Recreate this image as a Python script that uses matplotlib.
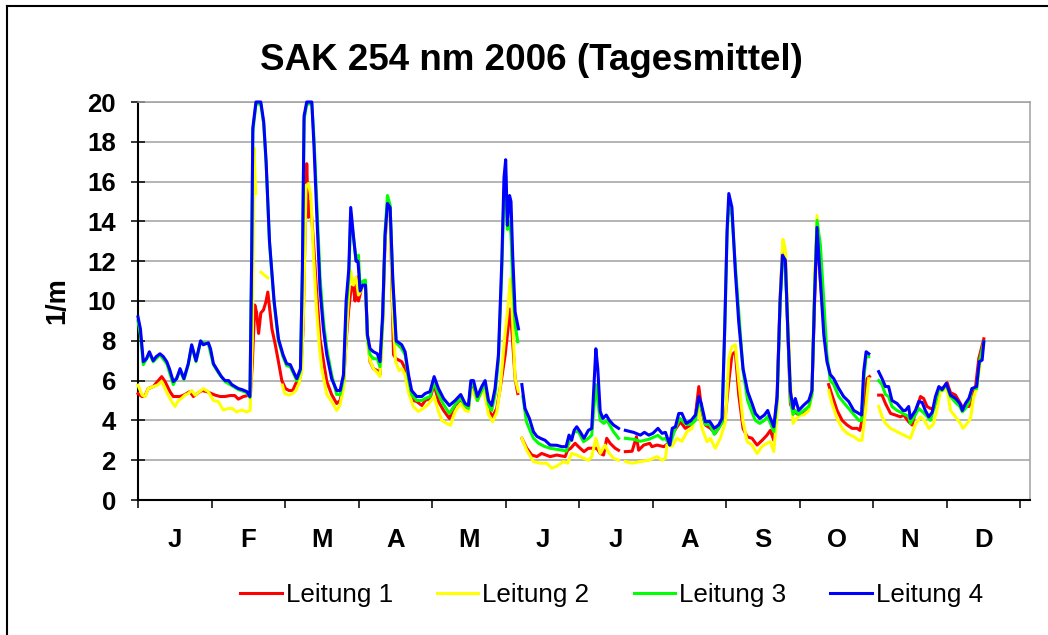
import numpy as np
import matplotlib.pyplot as plt
from matplotlib.lines import Line2D

plt.rcParams['font.family'] = ['Liberation Sans', 'DejaVu Sans']

# month labels under the x axis
months = ['J', 'F', 'M', 'A', 'M', 'J', 'J', 'A', 'S', 'O', 'N', 'D']
y_ticks = list(range(0, 21, 2))

# daily means: (day of year, 1/m), None = no data
leitung1 = [
    (0, 5.35), (1.7, 5.2), (3, 5.25), (4.2, 5.6), (6.3, 5.7), (8.4, 6.0), (9.8, 6.2), (11.2, 5.95),
    (13.2, 5.45), (14.6, 5.2), (17.4, 5.2), (19.4, 5.3), (21.5, 5.45), (22.9, 5.2), (24.5, 5.35),
    (26.4, 5.5), (28.4, 5.45), (31.9, 5.27), (34, 5.2), (36, 5.2), (38.1, 5.25), (40, 5.25),
    (41.5, 5.07), (43.6, 5.2), (45.5, 5.25), (46.5, 5.3), (47.3, 6.9), (48.3, 9.8), (49, 9.45),
    (49.9, 8.37), (50.8, 9.4), (51.9, 9.55), (52.9, 9.95), (53.7, 10.45), (54.5, 9.6), (55.4, 8.6),
    (56.8, 7.8), (58.1, 6.95), (59.5, 6.0), (61, 5.6), (62.5, 5.5), (64, 5.5), (65.3, 5.86),
    (66.6, 6.0), (67.3, 6.28), (68.3, 8.6), (69.2, 14.0), (69.8, 16.9), (70.5, 14.2), (71.2, 15.0),
    (72, 14.0), (72.8, 12.5), (73.9, 10.5), (75.3, 8.1), (76.7, 7.0), (78.1, 5.95), (80.1, 5.3),
    (82.2, 4.85), (83.6, 5.0), (85, 5.8), (86.1, 8.0), (87.2, 9.6), (88.2, 10.7), (89.1, 10.7),
    (89.8, 10.0), (90.5, 11.2), (91.2, 10.0), (92.6, 10.7), (94.1, 10.8), (94.9, 8.3), (96, 6.95),
    (97.4, 6.6), (99, 6.5), (100.1, 6.3), (101.2, 9.0), (102.2, 13.0), (103.2, 14.8), (104.3, 14.6),
    (104.8, 12.0), (105.7, 7.3), (106.8, 7.1), (109.1, 6.95), (110.5, 6.6), (111.9, 5.6), (113.9, 5.0),
    (115.3, 4.95), (117.4, 4.75), (118.8, 5.0), (120.8, 5.1), (122.5, 5.8), (124.3, 4.95), (126.4, 4.5),
    (128.8, 4.1), (131.2, 4.75), (133.5, 5.0), (135.3, 4.7), (136.7, 4.6), (137.7, 5.7), (139, 5.4),
    (140.4, 5.0), (142.9, 5.8), (145, 4.5), (146.7, 4.2), (148.4, 4.6), (149.8, 5.6), (151.9, 7.3),
    (152.8, 8.3), (153.9, 9.6), (154.8, 8.3), (156, 6.1), (157.1, 5.35), (158, None), (158.8, 3.1),
    (160.8, 2.6), (162.9, 2.26), (165, 2.18), (167, 2.34), (170.5, 2.18), (173.2, 2.26), (176.7, 2.18),
    (177.7, 2.5), (179, 2.6), (180.8, 2.85), (182.9, 2.6), (184.5, 2.43), (186.3, 2.6), (188.4, 2.6),
    (189.8, 2.6), (191.2, 2.34), (192.6, 2.26), (193.9, 3.1), (195.3, 2.85), (197.4, 2.6), (198.8, 2.5),
    (200.2, None), (201.6, 2.43), (204.4, 2.45), (206.2, 3.18), (207.1, 2.5), (209.2, 2.76),
    (211.7, 2.85), (212.6, 2.68), (214.7, 2.76), (217.5, 2.68), (219.5, 2.85), (221.6, 3.43),
    (224.4, 3.93), (226.4, 3.6), (228.5, 3.77), (230.6, 4.27), (232, 5.7), (233.3, 4.43), (234.7, 3.77),
    (236.8, 3.6), (238.8, 3.35), (240.9, 3.77), (243, 4.27), (244.4, 5.95), (245.7, 7.3), (247.1, 7.45),
    (248.5, 5.3), (250.3, 3.6), (252, 3.18), (254, 3.1), (256.1, 2.76), (258.2, 3.0), (260.2, 3.26),
    (261.6, 3.5), (263, 3.0), (264.4, 5.3), (265.6, 10.0), (266.6, 12.5), (267.8, 12.2), (268.8, 8.5),
    (269.9, 4.8), (271.9, 4.4), (273.3, 4.27), (275.4, 4.43), (277.5, 4.6), (278.8, 5.5), (279.9, 10.0),
    (280.9, 13.7), (282.3, 11.0), (283.3, 9.5), (284.5, None), (285.7, 5.8), (287.1, 5.27), (289.2, 4.5),
    (291.3, 4.0), (293.3, 3.77), (295.4, 3.6), (297.5, 3.6), (298.6, 3.5), (300, 4.27), (301.6, 6.1),
    (302.6, 6.2), (304.3, None), (306.4, 5.27), (307.8, 5.27), (309.2, 4.85), (311.3, 4.35),
    (313.3, 4.27), (315.4, 4.18), (316.8, 4.27), (318.8, 3.93), (320.2, 3.77), (321.6, 4.4),
    (323.7, 5.2), (325, 5.1), (326.4, 4.7), (327.8, 4.6), (329.2, 4.6), (330.6, 5.2), (331.9, 5.6),
    (333.3, 5.65), (334.7, 5.9), (336.1, 5.4), (338.2, 5.27), (340.9, 4.7), (343.7, 4.7), (345, 5.2),
    (346.4, 5.6), (347.8, 7.1), (349.9, 8.1),
]

leitung2 = [
    (0, 5.77), (1.7, 5.27), (3, 5.2), (4.2, 5.6), (6.3, 5.7), (8, 5.77), (9.8, 5.95), (11.2, 5.6),
    (12.5, 5.27), (13.9, 4.95), (15.3, 4.7), (16.7, 5.0), (18, 5.1), (19.4, 5.27), (20.8, 5.35),
    (22.2, 5.5), (23.6, 5.27), (25, 5.4), (27, 5.6), (29, 5.45), (31.2, 5.0), (33.2, 4.95),
    (35.3, 4.52), (37.4, 4.6), (39, 4.6), (40.8, 4.43), (42.9, 4.52), (45, 4.43), (46.4, 4.5),
    (47.3, 8.0), (48, 17.7), (48.7, 15.4), (49.7, None), (50.8, 11.45), (52.3, 11.3), (53.7, 11.16),
    (56, None), (59.7, 5.77), (60.7, 5.35), (62.5, 5.27), (64, 5.35), (65.3, 5.5), (66.6, 5.86),
    (67.7, 6.5), (68.6, 10.0), (69.5, 15.8), (70.5, 15.9), (71.5, 15.3), (72.5, 12.5), (73.9, 9.5),
    (75.1, 7.6), (76, 6.6), (78.1, 5.3), (80.1, 4.95), (82.2, 4.5), (83.6, 4.8), (85, 5.6),
    (87.1, 10.3), (88, 11.5), (89.1, 10.8), (90.2, 11.2), (91.2, 10.3), (92.6, 10.6), (94.1, 10.7),
    (94.9, 8.0), (96, 7.0), (97.4, 6.6), (99, 6.4), (100.1, 6.2), (101.2, 8.5), (102.2, 13.0),
    (103.2, 14.9), (104.3, 14.3), (105.4, 9.5), (106.5, 7.0), (108, 6.5), (109.1, 6.6), (110.5, 6.3),
    (111.9, 5.4), (113.9, 4.7), (115.9, 4.45), (118, 4.6), (120, 4.8), (122.5, 5.2), (124.3, 4.45),
    (125.7, 4.0), (127.7, 3.85), (129.3, 3.75), (131.2, 4.45), (133.5, 4.85), (135.3, 4.5),
    (136.7, 4.45), (137.7, 5.6), (139, 5.3), (140.4, 5.0), (142.9, 5.6), (145, 4.3), (146.7, 3.93),
    (148.4, 4.4), (149.8, 5.6), (151.8, 8.3), (152.8, 9.4), (154, 11.1), (154.8, 9.5), (156, 6.1),
    (157.4, 5.45), (158.1, None), (158.8, 3.1), (160.8, 2.5), (163.6, 1.93), (166.3, 1.85),
    (169, 1.85), (171.2, 1.6), (173.2, 1.7), (176, 1.93), (177.7, 1.85), (179.4, 2.34), (181.5, 2.26),
    (184.3, 2.1), (186.3, 2.0), (187.7, 2.18), (189.4, 3.1), (191.2, 2.34), (193.2, 2.76),
    (194.6, 2.4), (196.7, 2.1), (198.8, 2.0), (200.2, None), (201.6, 1.93), (204.4, 1.85),
    (207.8, 1.93), (211.3, 2.0), (214.7, 2.18), (216.8, 2.0), (218.2, 2.1), (218.8, 2.76),
    (220.9, 2.7), (223, 3.1), (225, 2.95), (227.1, 3.43), (229.2, 3.6), (231.5, 4.77), (233.3, 3.6),
    (235.4, 2.93), (236.8, 3.1), (238.8, 2.6), (240.9, 3.1), (243, 3.93), (244.4, 7.1), (245.7, 7.7),
    (247.1, 7.8), (248.5, 6.0), (250.3, 3.93), (252, 2.93), (254, 2.76), (256.1, 2.34), (258.2, 2.7),
    (260.2, 2.85), (261.6, 2.93), (263, 2.43), (264.4, 4.4), (265.6, 10.2), (266.8, 13.1),
    (267.8, 12.6), (268.8, 9.4), (269.9, 6.0), (271, 3.85), (272.4, 4.1), (274, 4.27), (275.4, 4.27),
    (277.5, 4.5), (278.8, 5.3), (279.9, 11.3), (280.9, 14.3), (282, 12.0), (283, 9.8), (284, 8.3),
    (284.8, None), (285.7, 5.5), (287.1, 4.85), (289.2, 4.1), (291.3, 3.6), (293.3, 3.35),
    (296.1, 3.18), (298.2, 3.0), (299.5, 3.0), (300.9, 4.43), (302.3, 6.1), (304.3, None),
    (306.4, 4.7), (307.8, 4.18), (309.2, 3.85), (311.3, 3.6), (314, 3.43), (316.8, 3.26),
    (319.5, 3.1), (321.6, 3.8), (323.7, 4.18), (325.3, 4.0), (327.1, 3.6), (329, 3.8), (330.6, 4.6),
    (331.9, 5.44), (333.3, 5.5), (334.7, 5.6), (336.1, 4.5), (338.2, 4.18), (340.2, 3.85),
    (341.3, 3.6), (343, 3.85), (344.4, 4.1), (345.7, 5.2), (347, 5.6), (348.4, 6.9), (349.9, 7.8),
]

leitung3 = [
    (0, 9.0), (1, 8.3), (2.2, 6.8), (4.7, 7.35), (6.3, 6.95), (9.1, 7.3), (11.9, 6.85), (14.6, 5.8),
    (17.4, 6.5), (19, 6.05), (20.8, 6.8), (22.2, 7.75), (24, 6.95), (25.9, 7.95), (29.1, 7.85),
    (31.2, 6.8), (33.2, 6.4), (36, 5.95), (38.8, 5.75), (41.5, 5.55), (45, 5.4), (46.3, 5.15),
    (47, 11.8), (47.5, 18.5), (48.8, 19.9), (50.8, 19.9), (52, 18.9), (53, 16.9), (54.4, 12.9),
    (56.3, 9.9), (58.1, 8.0), (60, 7.2), (61.5, 6.75), (63, 6.7), (65.7, 6.0), (67.2, 6.5),
    (68, 11.4), (68.7, 19.1), (69.8, 19.9), (71.9, 19.9), (72.8, 18.2), (73.9, 15.2), (75.3, 11.2),
    (76.7, 9.0), (78.1, 7.6), (80.1, 6.3), (82.2, 5.3), (83.6, 5.3), (85, 6.1), (86.1, 9.5),
    (87.2, 11.2), (88, 14.4), (89.1, 13.2), (90.2, 12.1), (91.2, 12.3), (91.9, 10.6), (93, 11.0),
    (94.1, 11.05), (94.9, 8.2), (96, 7.3), (97.4, 7.1), (99, 7.1), (100.1, 6.7), (101.2, 9.0),
    (102.2, 13.5), (103.2, 15.3), (104.3, 14.8), (105.4, 11.0), (106.8, 7.9), (109.1, 7.6),
    (110.5, 7.3), (111.9, 6.1), (113.2, 5.3), (115.3, 5.0), (117.4, 5.0), (118.8, 5.1), (120.8, 5.2),
    (122.5, 5.9), (124.3, 5.3), (126.4, 4.8), (128.8, 4.35), (131.2, 4.8), (133.5, 5.1), (135.3, 4.75),
    (136.7, 4.6), (137.7, 5.8), (138.8, 5.8), (140.4, 5.0), (142.2, 5.5), (143.6, 5.8), (145, 4.8),
    (146.3, 4.5), (147.7, 5.3), (149.1, 7.0), (150.5, 11.5), (151.4, 15.5), (152.1, 16.3),
    (152.8, 13.6), (153.7, 14.0), (154.3, 13.3), (155, 11.0), (156, 8.8), (157.1, 7.95), (158.1, None),
    (159.2, 5.2), (160.7, 3.93), (162.5, 3.4), (163.6, 3.1), (165.7, 2.85), (168, 2.7), (170.5, 2.6),
    (173, 2.55), (175.8, 2.5), (177.1, 2.45), (178.3, 2.9), (180.4, 3.43), (182.2, 3.43),
    (184.3, 2.93), (186.3, 3.1), (187.7, 3.26), (188.7, 4.8), (189.4, 5.8), (190.2, 5.0), (191.2, 4.0),
    (192.7, 3.85), (194, 4.0), (196.7, 3.43), (198.8, 3.1), (200.2, None), (201.6, 3.1), (205, 3.05),
    (207.8, 2.95), (211.3, 3.05), (215.1, 3.25), (217, 3.05), (218.2, 3.1), (220, 2.76), (222.3, 3.6),
    (224.2, 4.1), (226.8, 3.8), (228.8, 3.8), (230.6, 4.0), (232, 5.1), (233.3, 4.5), (234.7, 3.8),
    (236.5, 3.8), (238.4, 3.3), (240.2, 3.6), (241.6, 3.9), (242.7, 8.4), (243.7, 13.4), (244.4, 14.8),
    (245.7, 14.3), (247.1, 11.8), (248.5, 9.5), (250.3, 6.5), (252.2, 5.0), (254, 4.4), (255.4, 4.0),
    (257.2, 3.85), (259.1, 4.0), (260.5, 4.2), (261.3, 3.95), (263, 3.43), (264.4, 5.0), (265.6, 9.8),
    (266.6, 12.0), (267.8, 11.8), (268.8, 8.5), (269.9, 5.0), (271, 4.3), (271.9, 4.5), (273.3, 4.3),
    (275.4, 4.5), (277.5, 4.7), (278.8, 5.3), (279.9, 10.5), (280.9, 14.05), (282.3, 12.8),
    (283.7, 10.0), (285, 7.3), (286.4, 6.0), (287.8, 5.8), (289.9, 5.2), (291.9, 4.9), (294, 4.6),
    (296.1, 4.3), (298.2, 4.0), (299.3, 4.0), (300.2, 6.0), (301.2, 7.2), (302.3, 7.2), (304.3, None),
    (306.4, 6.0), (307.8, 5.8), (309.2, 5.3), (310.5, 5.2), (311.9, 4.7), (314, 4.5), (316.5, 4.35),
    (318.8, 4.2), (319.5, 3.85), (321.6, 4.3), (323, 4.6), (325.7, 4.3), (327.8, 4.0), (329.9, 4.9),
    (331.3, 5.6), (332.6, 5.5), (334.4, 5.8), (336.1, 5.2), (338.2, 4.9), (340, 4.7), (341, 4.43),
    (342.3, 4.6), (343.7, 4.9), (345, 5.6), (346.9, 5.6), (348, 6.9), (349.9, 7.95),
]

leitung4 = [
    (0, 9.2), (1, 8.6), (2.2, 6.95), (3.5, 7.1), (4.7, 7.45), (6.3, 7.0), (7.5, 7.2), (9.1, 7.35),
    (10.5, 7.2), (11.9, 6.95), (13, 6.6), (14.6, 5.95), (16, 6.1), (17.4, 6.6), (19, 6.1), (20.8, 6.85),
    (22.2, 7.8), (24, 7.0), (25.9, 8.0), (27, 7.8), (29.1, 7.9), (30, 7.6), (31.2, 6.85), (33.2, 6.45),
    (34.5, 6.2), (36, 6.0), (37.5, 6.0), (38.8, 5.8), (41.5, 5.6), (43, 5.55), (45, 5.45), (46.3, 5.2),
    (47, 12.0), (47.5, 18.7), (48.8, 20.0), (50.8, 20.0), (52, 19.0), (53, 17.0), (54.4, 13.0),
    (56.3, 10.0), (58.1, 8.1), (60, 7.3), (61.5, 6.85), (63, 6.8), (64.5, 6.4), (65.7, 6.1),
    (67.2, 6.6), (68, 11.6), (68.7, 19.3), (69.8, 20.0), (71.9, 20.0), (72.8, 17.8), (73.9, 14.5),
    (75.3, 10.6), (76.7, 8.6), (78.1, 7.3), (80.1, 6.1), (82.2, 5.5), (83.6, 5.5), (85, 6.3),
    (86.1, 10.0), (87.2, 11.6), (88, 14.7), (89.1, 13.3), (90.2, 12.0), (91, 12.0), (91.9, 10.5),
    (93, 10.8), (94.1, 10.8), (94.9, 8.3), (96, 7.6), (97.4, 7.45), (99, 7.35), (100.1, 6.95),
    (101.2, 9.3), (102.2, 13.3), (103.2, 14.9), (104.3, 14.7), (105.4, 11.1), (106.8, 8.0),
    (109.1, 7.8), (110.5, 7.45), (111.9, 6.3), (113.2, 5.5), (115.3, 5.2), (117.4, 5.2), (118.8, 5.35),
    (120.8, 5.45), (122.5, 6.2), (124.3, 5.6), (126.4, 5.1), (128.8, 4.75), (131.2, 5.0), (133.5, 5.3),
    (135.3, 4.85), (136.7, 4.75), (137.7, 6.0), (138.8, 6.0), (140.4, 5.2), (142.2, 5.7), (143.6, 6.0),
    (145, 5.0), (146.3, 4.75), (147.7, 5.6), (149.1, 7.3), (150.5, 12.0), (151.4, 16.2), (152.1, 17.1),
    (152.8, 13.8), (153.7, 15.3), (154.3, 15.0), (155, 12.3), (156, 9.45), (157.4, 8.6), (158.1, None),
    (158.8, 5.8), (160.1, 4.6), (161.9, 4.1), (163.6, 3.43), (165, 3.2), (166.5, 3.1), (168.4, 3.0),
    (170.5, 2.76), (173.2, 2.75), (175.3, 2.68), (177.1, 2.68), (178.3, 3.26), (179.4, 3.0),
    (180.4, 3.5), (181.5, 3.68), (182.9, 3.43), (184.5, 3.1), (186.3, 3.5), (187.7, 3.6), (188.7, 5.95),
    (189.4, 7.6), (190.2, 6.6), (191.2, 4.45), (192.3, 4.1), (193.7, 4.27), (195, 4.0), (196.7, 3.77),
    (198.8, 3.6), (200.2, None), (201.6, 3.5), (205, 3.4), (207.8, 3.26), (209.5, 3.4), (211.3, 3.26),
    (213, 3.35), (215.1, 3.6), (216.8, 3.35), (218.2, 3.4), (220, 2.76), (221, 3.6), (222.3, 3.68),
    (223.7, 4.35), (225, 4.35), (226.8, 3.85), (228.8, 4.0), (230.6, 4.27), (232, 5.2), (233, 4.85),
    (234.7, 3.93), (236.5, 3.95), (238.4, 3.6), (240.2, 3.77), (241.6, 4.1), (242.7, 8.6),
    (243.7, 13.6), (244.4, 15.4), (245.7, 14.7), (247.1, 11.5), (248.5, 8.95), (250.3, 6.6),
    (252.2, 5.45), (254, 4.85), (255.4, 4.35), (257.2, 4.1), (259.1, 4.27), (260.5, 4.5), (261.3, 4.2),
    (263, 3.68), (264.4, 5.2), (265.6, 10.0), (266.6, 12.3), (267.8, 12.05), (268.8, 8.6),
    (269.9, 5.45), (271, 4.6), (271.9, 5.1), (273.3, 4.5), (275.4, 4.77), (277.5, 5.0), (278.8, 5.5),
    (279.9, 10.3), (280.9, 13.7), (282.3, 11.0), (283.7, 8.3), (285, 6.95), (286.4, 6.3), (287.8, 6.1),
    (289.9, 5.6), (291.9, 5.2), (294, 4.95), (296.1, 4.5), (298.2, 4.35), (299.3, 4.27), (300.2, 6.45),
    (301.2, 7.45), (302.3, 7.35), (304.3, None), (306.4, 6.45), (307.8, 6.1), (309.2, 5.7),
    (310.5, 5.7), (311.9, 5.0), (314, 4.85), (316.5, 4.5), (317.5, 4.5), (318.8, 4.7), (319.5, 4.1),
    (321.6, 4.5), (323, 4.95), (324.4, 4.9), (325.7, 4.5), (327.1, 4.18), (328.5, 4.4), (329.9, 5.2),
    (331.3, 5.7), (332.6, 5.55), (334.4, 5.86), (336.1, 5.27), (338.2, 5.1), (340, 4.85), (341, 4.5),
    (342.3, 4.85), (343.7, 5.1), (345, 5.6), (346.9, 5.7), (348, 6.95), (349.2, 7.03), (349.9, 7.95),
]

series = [
    (leitung1, '#ff0000', 'Leitung 1'),
    (leitung2, '#ffff00', 'Leitung 2'),
    (leitung3, '#00ff00', 'Leitung 3'),
    (leitung4, '#0000ff', 'Leitung 4'),
]

W, H = 1048, 635
fig = plt.figure(figsize=(W / 100, H / 100), dpi=100)
ax = fig.add_axes([138 / W, 1 - 500 / H, (1030 - 138) / W, (500 - 102) / H])

for data, color, label in series:
    days = [d for d, v in data]
    vals = np.array([v for d, v in data], dtype=float)
    ax.plot(days, vals, color=color, lw=2.2, label=label, clip_on=False,
            solid_joinstyle='round', zorder=3)

ax.set_xlim(0, 369)
ax.set_ylim(0, 20)

# month boundaries as ticks, month letters in between
month_len = 365 / 12
ax.set_xticks([i * month_len for i in range(13)])
ax.set_xticklabels([])
ax.set_xticks([(i + 0.5) * month_len for i in range(12)], minor=True)
ax.set_xticklabels(months, minor=True, fontsize=18.5, fontweight='bold')
ax.tick_params(axis='x', which='major', direction='out', length=6, width=1.1, color='black')
ax.tick_params(axis='x', which='minor', length=0, pad=20)

ax.set_yticks(y_ticks)
ax.set_yticklabels([str(t) for t in y_ticks], fontsize=18.5, fontweight='bold')
ax.tick_params(axis='y', direction='inout', length=10, width=1.1, pad=11)

ax.grid(axis='y', color='#a0a0a0', lw=1.1, zorder=0)
ax.set_axisbelow(True)
for side in ['left', 'bottom']:
    ax.spines[side].set_color('black')
    ax.spines[side].set_linewidth(1.5)
for side in ['top', 'right']:
    ax.spines[side].set_color('#a0a0a0')
    ax.spines[side].set_linewidth(1.1)

fig.text(531.5 / W, 1 - 60 / H, 'SAK 254 nm 2006 (Tagesmittel)', ha='center', va='center',
         fontsize=26.5, fontweight='bold')
fig.text(57 / W, 1 - 301 / H, '1/m', rotation=90, ha='center', va='center',
         fontsize=19.5, fontweight='bold')

fig.legend(loc='center', bbox_to_anchor=(611.5 / W, 1 - 595 / H), ncol=4, frameon=False,
           fontsize=18.7, handlelength=1.6, handletextpad=0.15, columnspacing=1.7)

# outer chart frame (only left and top edges lie inside the picture)
fig.add_artist(Line2D([7 / W, 7 / W], [0, 1 - 6 / H], transform=fig.transFigure, color='black', lw=1.5))
fig.add_artist(Line2D([7 / W, 1], [1 - 6 / H, 1 - 6 / H], transform=fig.transFigure, color='black', lw=1.5))

fig.savefig('out.png', dpi=100)
